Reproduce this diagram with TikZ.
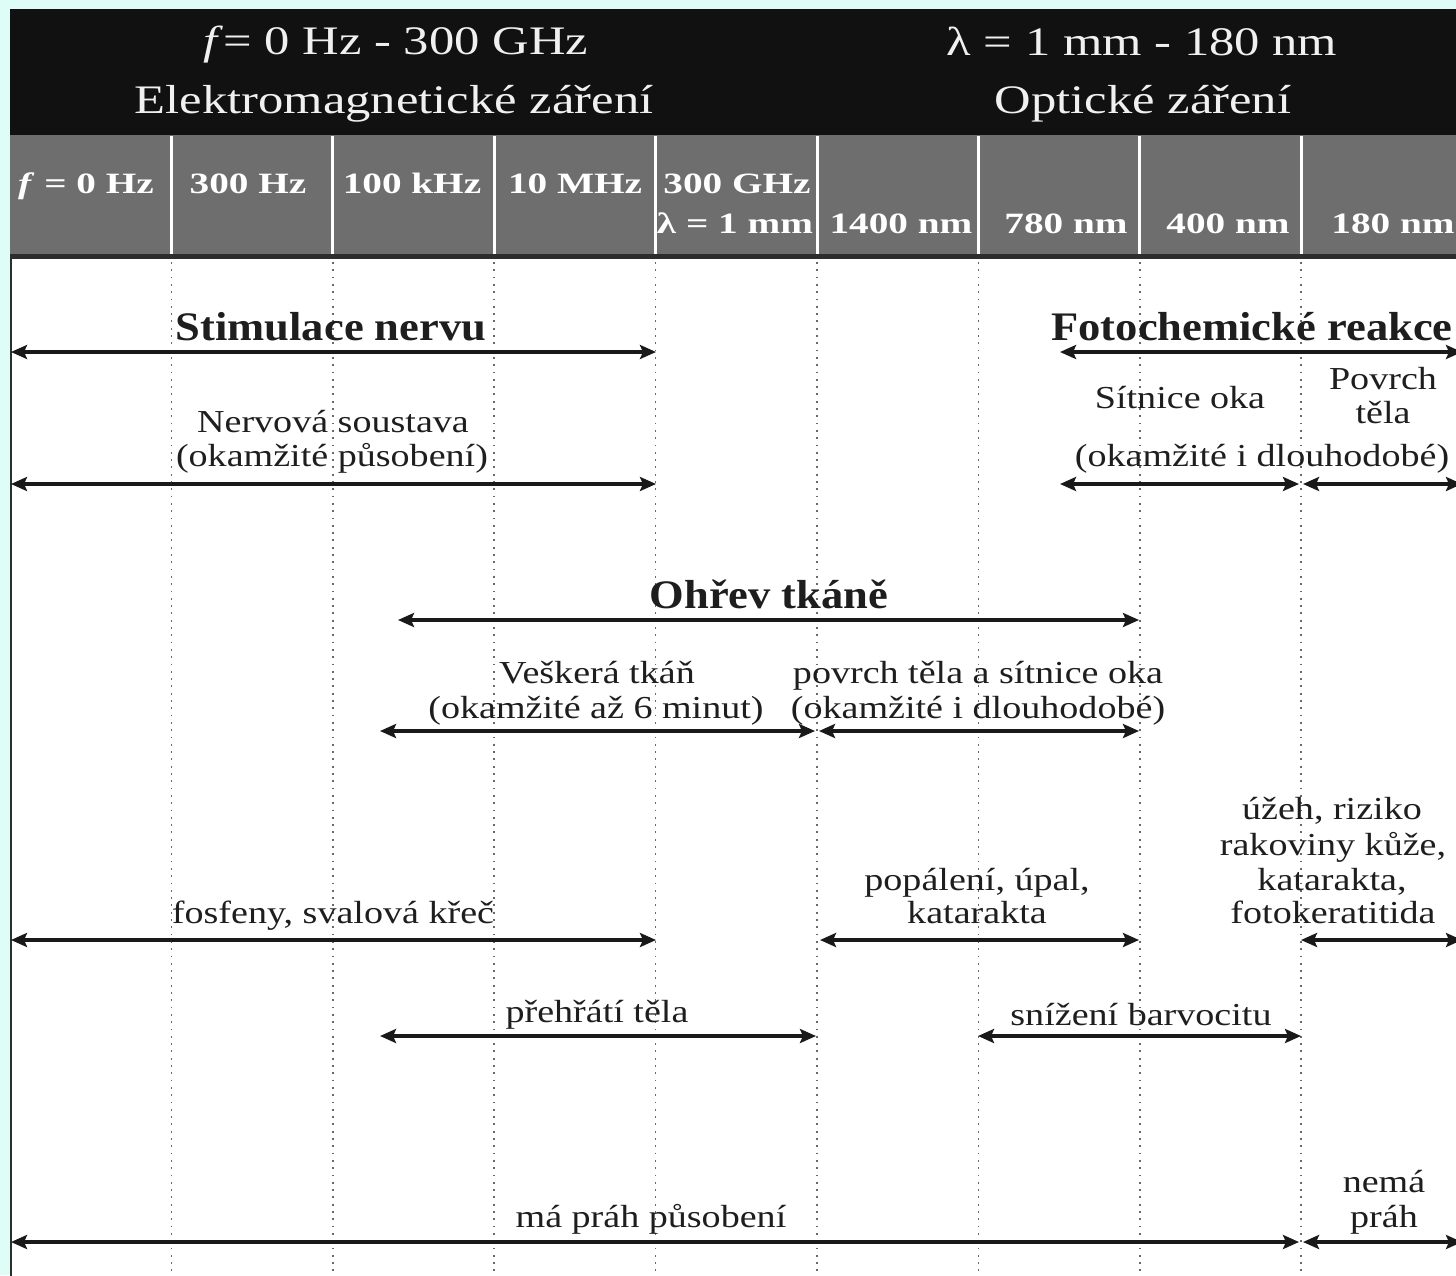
\documentclass[tikz,border=0pt]{standalone}
\usepackage{fontspec}
\setmainfont{Liberation Serif}[FakeStretch=1.19]
\newfontfamily\hdrfont{Liberation Serif}[FakeStretch=1.25]
\newfontfamily\bandfont{Liberation Serif}[FakeStretch=1.33]
\newfontfamily\ttlfont{Liberation Serif}[FakeStretch=1.1]
\usetikzlibrary{arrows.meta}
\definecolor{cyanbg}{RGB}{222,253,246}
\definecolor{hdrc}{RGB}{17,17,17}
\definecolor{bandc}{RGB}{110,110,110}
\definecolor{darkline}{RGB}{45,45,45}
\definecolor{txt}{RGB}{30,30,30}
\definecolor{arr}{RGB}{25,25,25}
\definecolor{gridc}{RGB}{105,105,105}
\definecolor{hdrtext}{RGB}{240,240,240}
\tikzset{
  hdr/.style={text=hdrtext, font=\hdrfont\fontsize{40.5}{44}\selectfont, anchor=base, inner sep=0pt},
  band/.style={text=white, font=\bandfont\bfseries\fontsize{29.5}{32}\selectfont, anchor=base, inner sep=0pt},
  lbl/.style={text=txt, font=\fontsize{32}{36}\selectfont, anchor=base, inner sep=0pt},
  ttl/.style={text=txt, font=\ttlfont\bfseries\fontsize{40.5}{44}\selectfont, anchor=base, inner sep=0pt},
  rng/.style={draw=arr, line width=3.4pt, {Stealth[length=16pt,width=14pt,inset=3pt]}-{Stealth[length=16pt,width=14pt,inset=3pt]}},
  gridline/.style={draw=gridc, line width=1.6pt, dash pattern=on 1.8pt off 5.5pt},
  divider/.style={draw=white, line width=3pt},
}
\begin{document}
\begin{tikzpicture}[x=1pt,y=-1pt]
\useasboundingbox (0,0) rectangle (1456,1275);
\clip (0,0) rectangle (1456,1275);
% backgrounds
\fill[cyanbg] (0,0) rectangle (1456,1275);
\fill[white] (10,258) rectangle (1460,1280);
\fill[hdrc] (10,9) rectangle (1460,135);
\fill[bandc] (10,135) rectangle (1460,255);
\fill[darkline] (10,254) rectangle (1460,259);
\draw[darkline, line width=2pt] (11,258) -- (11,1280);
% column lines
\foreach \i in {1,...,8} {
  \pgfmathsetmacro{\cx}{10+161.4*\i}
  \draw[divider] (\cx,136) -- (\cx,254);
  \draw[gridline] (\cx,262) -- (\cx,1280);
}
% header
\node[hdr] (h1) at (396,54) {\textit{f}= 0 Hz - 300 GHz};
\node[hdr] (h2) at (394,113) {Elektromagnetické záření};
\node[hdr] (h3) at (1142,55) {λ = 1 mm - 180 nm};
\node[hdr] (h4) at (1143,113) {Optické záření};
% band labels
\node[band] (b1) at (86,193) {\textit{f} = 0 Hz};
\node[band] (b2) at (248,193) {300 Hz};
\node[band] (b3) at (412,193) {100 kHz};
\node[band] (b4) at (575,193) {10 MHz};
\node[band] (b5) at (737,193) {300 GHz};
\node[band] (b6) at (735,233) {λ = 1 mm};
\node[band] (b7) at (901,233) {1400 nm};
\node[band] (b8) at (1066,233) {780 nm};
\node[band] (b9) at (1228,233) {400 nm};
\node[band] (b10) at (1393,233) {180 nm};
% titles and labels
\node[ttl] (t1) at (331,340) {Stimulace nervu};
\node[ttl] (t2) at (1252,340) {Fotochemické reakce};
\node[lbl] (l1) at (333,432) {Nervová soustava};
\node[lbl] (l2) at (332,466) {(okamžité působení)};
\node[lbl] (l3) at (1180,408) {Sítnice oka};
\node[lbl] (l4) at (1383,389) {Povrch};
\node[lbl] (l5) at (1383,423) {těla};
\node[lbl] (l6) at (1262,466) {(okamžité i dlouhodobé)};
\node[ttl] (t3) at (769,608) {Ohřev tkáně};
\node[lbl] (l7) at (597,683) {Veškerá tkáň};
\node[lbl] (l8) at (596,718) {(okamžité až 6 minut)};
\node[lbl] (l9) at (978,683) {povrch těla a sítnice oka};
\node[lbl] (l10) at (978,718) {(okamžité i dlouhodobé)};
\node[lbl] (l11) at (1332,819) {úžeh, riziko};
\node[lbl] (l12) at (1333,855) {rakoviny kůže,};
\node[lbl] (l13) at (1332,890) {katarakta,};
\node[lbl] (l14) at (1333,923) {fotokeratitida};
\node[lbl] (l15) at (977,890) {popálení, úpal,};
\node[lbl] (l16) at (977,923) {katarakta};
\node[lbl] (l17) at (333,923) {fosfeny, svalová křeč};
\node[lbl] (l18) at (597,1022) {přehřátí těla};
\node[lbl] (l19) at (1141,1025) {snížení barvocitu};
\node[lbl] (l20) at (1384,1192) {nemá};
\node[lbl] (l21) at (1384,1227) {práh};
\node[lbl] (l22) at (651,1227) {má práh působení};
% arrow end points
\coordinate (a1l) at (11,352);   \coordinate (a1r) at (656,352);
\coordinate (a2l) at (1060,352); \coordinate (a2r) at (1462,352);
\coordinate (a3l) at (11,484);   \coordinate (a3r) at (656,484);
\coordinate (a4l) at (1060,484); \coordinate (a4r) at (1299,484);
\coordinate (a5l) at (1303,484); \coordinate (a5r) at (1462,484);
\coordinate (a6l) at (398,620);  \coordinate (a6r) at (1139,620);
\coordinate (a7l) at (380,731);  \coordinate (a7r) at (815,731);
\coordinate (a8l) at (819,731);  \coordinate (a8r) at (1139,731);
\coordinate (a9l) at (11,940);   \coordinate (a9r) at (656,940);
\coordinate (a10l) at (820,940); \coordinate (a10r) at (1139,940);
\coordinate (a11l) at (1301,940); \coordinate (a11r) at (1462,940);
\coordinate (a12l) at (380,1036); \coordinate (a12r) at (816,1036);
\coordinate (a13l) at (978,1036); \coordinate (a13r) at (1301,1036);
\coordinate (a14l) at (11,1242);  \coordinate (a14r) at (1299,1242);
\coordinate (a15l) at (1303,1242); \coordinate (a15r) at (1462,1242);
\foreach \k in {1,...,15} { \draw[rng] (a\k l) -- (a\k r); }
\end{tikzpicture}
\end{document}
